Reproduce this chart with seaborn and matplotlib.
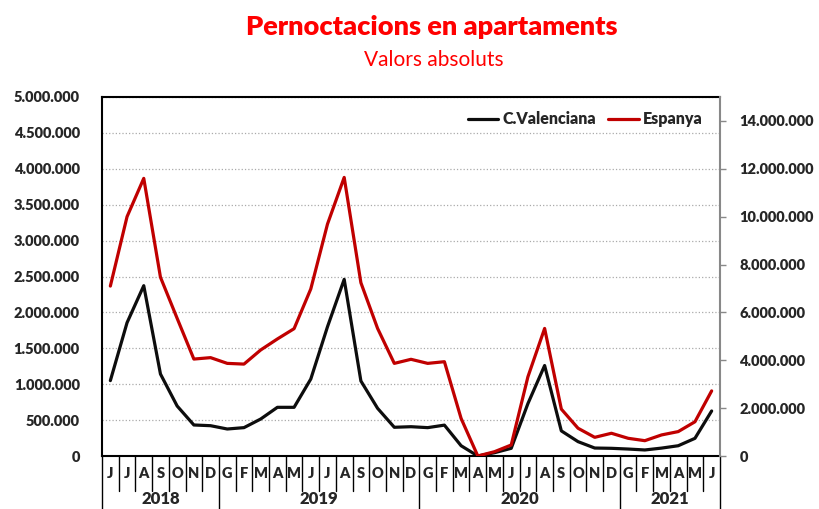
import numpy as np
import pandas as pd
import matplotlib
matplotlib.use("Agg")
import matplotlib.pyplot as plt
import matplotlib.transforms as mtransforms
import seaborn as sns

sns.set_style("white")
plt.rcParams['font.family'] = ['Lato', 'DejaVu Sans']

# Month labels (June 2018 - June 2021)
months = ['J', 'J', 'A', 'S', 'O', 'N', 'D',
          'G', 'F', 'M', 'A', 'M', 'J', 'J', 'A', 'S', 'O', 'N', 'D',
          'G', 'F', 'M', 'A', 'M', 'J', 'J', 'A', 'S', 'O', 'N', 'D',
          'G', 'F', 'M', 'A', 'M', 'J']
years = ['2018', '2019', '2020', '2021']
year_counts = [7, 12, 12, 6]

# Overnight stays, C. Valenciana (left axis)
valenciana = [1050000, 1857000, 2372000, 1142000, 696000, 432000, 422000,
              376000, 395000, 515000, 678000, 678000, 1072000, 1800000, 2460000,
              1045000, 664000, 400000, 408000,
              395000, 430000, 143000, 0, 46000, 107000, 730000, 1260000,
              350000, 200000, 111000, 107000,
              97000, 84000, 110000, 143000, 246000, 627000]

# Overnight stays, Espanya (right axis)
espanya = [7100000, 10000000, 11600000, 7470000, 5750000, 4050000, 4110000,
           3870000, 3840000, 4430000, 4890000, 5320000, 6980000, 9690000, 11640000,
           7240000, 5330000, 3870000, 4040000,
           3870000, 3940000, 1570000, 0, 180000, 460000, 3310000, 5330000,
           1960000, 1160000, 780000, 950000,
           740000, 640000, 880000, 1020000, 1430000, 2720000]

df = pd.DataFrame({'idx': np.arange(len(months)),
                   'valenciana': valenciana, 'espanya': espanya})

fig = plt.figure(figsize=(8.2, 5.09), dpi=100)
ax = fig.add_axes([102 / 820, 1 - 456 / 509, 618 / 820, 359 / 509])
ax2 = ax.twinx()

sns.lineplot(data=df, x='idx', y='valenciana', ax=ax, color='#0d0d0d',
             linewidth=2.3, label='C.Valenciana', legend=False)
sns.lineplot(data=df, x='idx', y='espanya', ax=ax2, color='#c00000',
             linewidth=2.3, label='Espanya', legend=False)

n = len(months)
ax.set_xlim(-0.5, n - 0.5)
ax.set_ylim(0, 5000000)
ax2.set_ylim(0, 15000000)

def fmt(v):
    return f"{int(v):,}".replace(',', '.')

lt = np.arange(0, 5000001, 500000)
ax.set_yticks(lt)
ax.set_yticklabels([fmt(v) for v in lt], fontweight='heavy', fontsize=10.5)
rt = np.arange(0, 14000001, 2000000)
ax2.set_yticks(rt)
ax2.set_yticklabels([fmt(v) for v in rt], fontweight='heavy', fontsize=10.5)
ax.tick_params(axis='y', length=0, pad=16)
ax2.tick_params(axis='y', length=4, color='#888888', width=1, pad=10, direction='out')

ax.grid(axis='y', color='#aaaaaa', linestyle=':', linewidth=0.9)
ax.grid(axis='x', visible=False)
ax2.grid(False)

for s in ['left', 'top', 'bottom']:
    ax.spines[s].set_color('black')
    ax.spines[s].set_linewidth(1.5)
ax.spines['right'].set_visible(False)
ax2.spines['right'].set_color('#888888')
ax2.spines['right'].set_linewidth(1.5)
for s in ['left', 'top', 'bottom']:
    ax2.spines[s].set_visible(False)

ax.set_xticks([])
ax.set_xlabel('')
ax.set_ylabel('')
ax2.set_ylabel('')

# Two-level category axis
trans = mtransforms.blended_transform_factory(ax.transData, ax.transAxes)
month_drop = 35 / 359
year_drop = 53 / 359
for i, m in enumerate(months):
    ax.text(i, -18 / 359, m, transform=trans, ha='center', va='center',
            fontweight='heavy', fontsize=10.5, clip_on=False)
bounds = np.cumsum([0] + year_counts) - 0.5
for i in range(n + 1):
    x = i - 0.5
    drop = year_drop if x in bounds else month_drop
    ax.plot([x, x], [0, -drop], transform=trans, color='black',
            linewidth=1, clip_on=False)
for k, y in enumerate(years):
    mid = (bounds[k] + bounds[k + 1]) / 2
    ax.text(mid, -43 / 359, y, transform=trans, ha='center', va='center',
            fontweight='heavy', fontsize=12, clip_on=False)

h1, l1 = ax.get_legend_handles_labels()
h2, l2 = ax2.get_legend_handles_labels()
leg = ax2.legend(h1 + h2, l1 + l2, loc='upper right', ncol=2, frameon=False,
                 prop={'weight': 'heavy', 'size': 11.5}, handlelength=1.9,
                 handletextpad=0.25, columnspacing=0.8,
                 bbox_to_anchor=(0.995, 1.0))

fig.text(0.5 + 22 / 820, 1 - 27 / 509, 'Pernoctacions en apartaments', ha='center',
         va='center', color='#ff0000', fontweight='heavy', fontsize=19.5)
fig.text(0.5 + 24 / 820, 1 - 60 / 509, 'Valors absoluts', ha='center',
         va='center', color='#ff0000', fontsize=15)

fig.savefig('out.png', dpi=100)
